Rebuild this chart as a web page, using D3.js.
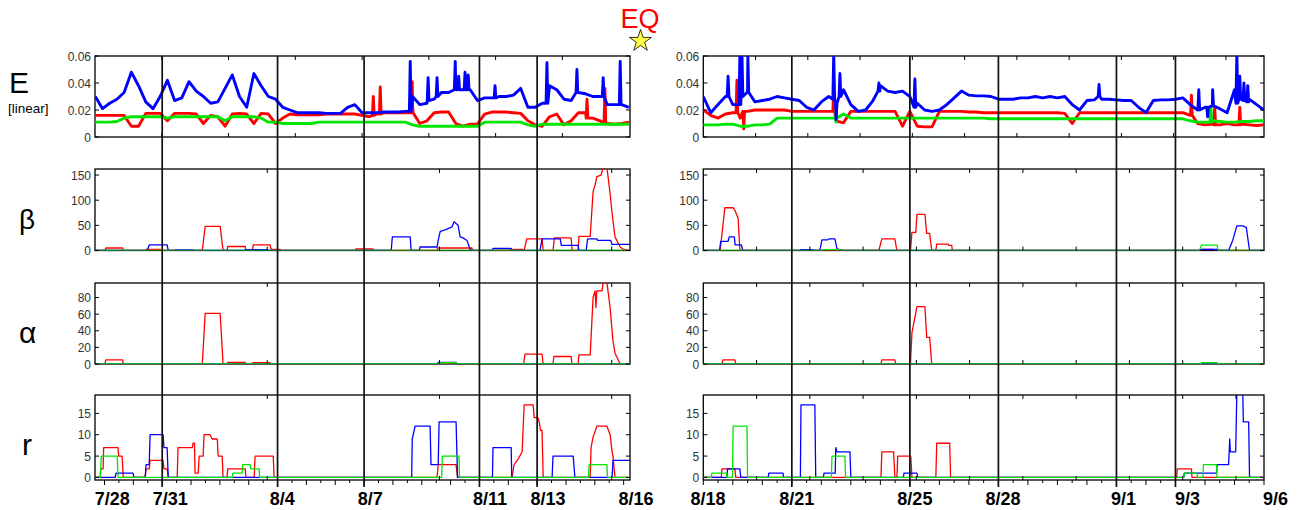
<!DOCTYPE html>
<html>
<head>
<meta charset="utf-8">
<script src="https://cdn.jsdelivr.net/npm/d3@7"></script>
<style>
body { margin: 0; background: #fff; }
text { font-family: "Liberation Sans", Arial, Helvetica, sans-serif; }
</style>
</head>
<body>
<div id="chart"></div>
<script>
// time is in days since 7/28 00:00
var leftDomain = [0.67, 19.22];
var rightDomain = [21, 40];

var dayLinesL = [3, 7, 10, 14, 16];
var dayLinesR = [24, 28, 31, 35, 37];

var dateLabelsL = ["7/28", "7/31", "8/4", "8/7", "8/11", "8/13", "8/16"];
var dateLabelPosL = [1.27, 3.28, 7.16, 10.21, 14.37, 16.38, 19.43];
var dateLabelsR = ["8/18", "8/21", "8/25", "8/28", "9/1", "9/3", "9/6"];
var dateLabelPosR = [21.16, 24.17, 28.17, 31.16, 35.24, 37.41, 40.39];

/* E series, sampled every 6 hours, in units of 1e-3 */
var eStartL = 0.68, eStartR = 21, eStep = 0.25;

var eBlueL = [30,21,25,28,33,48,38,26,21,30,
    42,27,29,41,34,30,25,26,36,46,
    30,22,47,38,30,28,22,20,18,18,
    18,18,17.5,17.5,17.5,22,24,18,18,18,
    18.5,18.5,18.5,19,30,24,25,28,33,33,
    36,35,35,27,29,29,30,30,31,36,
    22,22,25,38,35,28,27,33,32,30,
    30,24,24,24,22];
var eRedL = [16,16,16,16,16,8,8,17.5,17.5,17.5,
    12,17.5,17.5,17.5,17,10,16,15,8,17,
    17.5,17,10,17.5,17,10,14,17,16.5,16.5,
    16.5,16.5,17,17,17,17,17,16,15,17,
    18,18,18,18,24,10,12,18,18.5,18.5,
    10,8,9.5,9.5,17,18.5,18.5,18.5,18,17.5,
    12,9,8,15,17,9,12,18,18,14,
    12,10,9.5,10,11];
var eGreenL = [11,11,11,11.5,14,15,15,15,15,15,
    14,15,15,15,15,15,15,15,12,15,
    15,15,15,14,11,11,10,10,10,10,
    10,11,11,11,11,11,11,11,11,11,
    11,11,11,11,9,8,8,8,8,8,
    8,8,8,8,11,11,11,11,11,11,
    9,8,9.5,9.5,9.5,9.5,9.5,9.5,9.5,9.5,
    9.5,9.5,9.5,9.5,9.5];

var eBlueR = [30,18,24,30,24,40,35,26,27,28,
    30,29,28,27,22,20,26,30,20,35,
    24,19,20,27,38,34,33,34,30,25,
    20,19,20,24,29,34,31,30.5,30.5,30,
    28,28,28,29,29,30,29,30,29,30,
    24,20,27,27.5,28,28,27.5,27,27,22,
    18,27,27.5,27.5,28,29,24,20,22,23,
    21,18,35,30,28,24,20];
var eRedR = [20,16,14,17,18,14,19,20,20,20,
    20,20,19,19,19,19,19,19,12,10.5,
    19,19,19,19,19,19,19,8,19,8,
    7.5,7.5,19,19,19,19,18.5,18.5,18,18,
    18,18,18,18,18,18,18,18,18,17.5,
    10,18,18,18,18,18,18,18,18,18,
    18,18,18,18,18,18,16,10,9,9.5,
    9,10,9,9.5,9,8.5,9];
var eGreenR = [9,9,9,9.5,9.5,8,8,9,9,9.5,
    14,14,14,14,14,14,14,14,11,17,
    14,14,14,14,14,14,14,14,14,14,
    14,14,14,14,14,14,14,14,14,13.5,
    13.5,13.5,13.5,13.5,13.5,13.5,13.5,13.5,13.5,13.5,
    13.5,13.5,13.5,13.5,13.5,13.5,13.5,13.5,13.5,13.5,
    13.5,13.5,13.5,13.5,13.5,13.5,12,11,11,12,
    11.5,11,11,11.5,11.5,12,12];

// short spikes [day, peak, level around it], units of 1e-3
var eBlueSpikesL = [[11.60,56,19],[12.22,44,27],[12.53,44,30],[13.16,56,35],[13.28,45,35],[13.50,48,35],[13.61,46,35],[14.54,38,29],[16.34,55,25],[17.38,50,33],[18.29,44,30],[18.88,56,24]];
var eRedSpikesL = [[10.32,30,16],[10.56,37,17],[11.67,41,18],[17.73,28,14],[18.35,36,10]];
var eGreenSpikesL = [];
var eBlueSpikesR = [[21.84,45,30],[22.24,62,24],[22.31,62,30],[22.51,60,33],[25.42,62,28],[25.50,13,25],[25.63,47,30],[26.95,40,34],[28.17,43,22],[34.41,39,30],[37.79,35,20],[38.09,15,22],[38.26,35,23],[39.08,62,25],[39.18,45,28],[39.32,40,27],[39.45,38,26]];
var eRedSpikesR = [[22.14,42,18],[22.37,6,19],[25.42,35,19],[37.54,31,16],[38.33,22,9],[39.18,22,9]];
var eGreenSpikesR = [[25.50,20,14],[38.20,22,11]];

/* beta */
var bRedL = [[0.68,0],[1.02,0],[1.04,5],[1.63,5],[1.65,0],[2.41,0],[2.44,2],[2.93,2],[2.96,0],[4.39,0],[4.49,48],[5.01,48],[5.11,0],[5.25,0],[5.27,8],[5.88,8],[5.90,0],[6.12,0],[6.16,11],[6.74,11],[6.78,2],[7.09,2],[7.12,0],[9.69,0],[9.71,3],[10.31,3],[10.33,0],[12.53,0],[12.55,5],[13.74,5],[13.76,0],[15.13,0],[15.15,2],[15.51,2],[15.55,0],[15.64,23],[16.17,23],[16.21,0],[16.55,0],[16.60,25],[17.18,25],[17.21,0],[17.42,0],[17.45,28],[17.84,28],[17.94,117],[18.01,130],[18.07,147],[18.22,150],[18.29,165],[18.42,165],[18.53,113],[18.60,73],[18.70,27],[18.88,7],[19.00,2],[19.22,0]];
var bBlueL = [[0.68,0],[2.48,0],[2.55,11],[3.17,11],[3.21,0],[3.43,0],[3.45,1],[4.07,1],[4.10,0],[5.86,0],[5.88,1.5],[6.64,1.5],[6.67,0],[10.94,0],[10.98,27],[11.60,27],[11.63,0],[11.92,0],[11.94,7],[12.53,7],[12.57,20],[12.64,38],[12.81,41],[13.05,47],[13.12,57],[13.26,50],[13.33,27],[13.43,25],[13.57,20],[13.67,3],[13.74,0],[14.45,0],[14.47,4],[15.10,4],[15.12,0],[16.10,0],[16.17,23],[16.80,23],[16.84,10],[17.42,10],[17.45,0],[17.70,0],[17.75,23],[18.07,23],[18.10,20],[18.55,20],[18.60,12],[19.22,12]];
var bGreenL = [[0.68,0],[19.22,0]];
var bRedR = [[21,0],[21.57,0],[21.63,31],[21.73,85],[22.01,85],[22.07,80],[22.18,64],[22.24,0],[26.95,0],[27.05,23],[27.49,23],[27.56,0],[28.02,0],[28.07,36],[28.20,36],[28.24,72],[28.51,72],[28.57,34],[28.67,34],[28.74,0],[28.88,0],[28.91,12.7],[29.30,12.7],[29.32,10],[29.42,10],[29.44,0],[37.85,0],[37.92,2],[38.26,2],[38.30,0],[40,0]];
var bBlueR = [[21,0],[21.55,0],[21.59,18],[21.84,18],[21.88,27],[22.05,27],[22.08,11],[22.29,11],[22.34,0],[24.28,0],[24.30,1.5],[24.71,1.5],[24.73,0],[24.95,0],[25.02,21],[25.22,21],[25.25,23],[25.46,23],[25.53,3],[25.73,0],[37.81,0],[37.85,2],[38.43,2],[38.45,0],[38.80,0],[38.94,20],[39.08,49],[39.28,49],[39.40,46],[39.51,0],[40,0]];
var bGreenR = [[21,0],[25.05,0],[25.07,1.5],[25.63,1.5],[25.65,0],[37.81,0],[37.88,10.6],[38.41,10.6],[38.45,0],[40,0]];

/* alpha */
var aRedL = [[0.68,0],[1.02,0],[1.04,5],[1.63,5],[1.65,0],[4.39,0],[4.49,61],[5.01,61],[5.11,0],[5.25,0],[5.27,2],[5.88,2],[5.90,0],[6.12,0],[6.14,1.5],[6.74,1.5],[6.76,0],[15.53,0],[15.58,12],[16.17,12],[16.21,0],[16.55,0],[16.58,9],[17.18,9],[17.21,0],[17.42,0],[17.45,11],[17.84,11],[17.94,80],[18.01,88],[18.04,68],[18.07,88],[18.25,88],[18.29,98],[18.42,98],[18.53,68],[18.63,28],[18.70,13],[18.88,0],[19.22,0]];
var aBlueL = [[0.68,0],[12.53,0],[12.57,2],[13.19,2],[13.22,0],[19.22,0]];
var aGreenL = [[0.68,0],[12.64,0],[12.66,1.5],[13.19,1.5],[13.22,0],[19.22,0]];
var aRedR = [[21,0],[21.63,0],[21.67,5],[22.07,5],[22.10,0],[27.02,0],[27.05,5],[27.49,5],[27.52,0],[28.02,0],[28.07,37.5],[28.24,69],[28.51,69],[28.57,32],[28.67,32],[28.74,0],[40,0]];
var aBlueR = [[21,0],[40,0]];
var aGreenR = [[21,0],[37.85,0],[37.88,1.5],[38.41,1.5],[38.45,0],[40,0]];

/* r */
var rRedL = [[0.68,0],[0.85,0],[0.87,2],[0.95,2],[0.97,7],[1.47,7],[1.49,5],[1.61,5],[1.65,0],[2.41,0],[2.44,2],[2.55,2],[2.58,4],[3.03,4],[3.06,2],[3.17,2],[3.21,0],[3.52,0],[3.55,7],[4.04,7],[4.07,8],[4.12,8],[4.14,1],[4.25,1],[4.28,5],[4.42,5],[4.45,10],[4.66,10],[4.73,9],[4.91,9],[4.94,5],[5.08,5],[5.11,0],[5.25,0],[5.27,2],[5.88,2],[5.90,0],[6.19,0],[6.22,5],[6.85,5],[6.88,0],[12.53,0],[12.57,3],[13.19,3],[13.24,0],[15.13,0],[15.20,3],[15.34,4.3],[15.48,6],[15.55,17],[15.86,17],[15.90,14],[16.03,14],[16.07,13],[16.12,11],[16.17,11],[16.21,0],[17.84,0],[17.87,7],[17.94,9.5],[18.07,12],[18.42,12],[18.53,10],[18.60,6],[18.63,5],[18.70,0],[19.22,0]];
var rBlueL = [[0.68,0],[1.37,0],[1.40,1],[1.99,1],[2.02,0],[2.41,0],[2.44,3],[2.55,3],[2.58,10],[3.03,10],[3.06,7],[3.17,7],[3.21,0],[11.65,0],[11.67,9],[11.77,12],[12.29,12],[12.32,3],[12.57,3],[12.60,13],[13.19,13],[13.24,0],[14.45,0],[14.47,7],[15.10,7],[15.12,0],[16.52,0],[16.55,5],[17.25,5],[17.31,0],[18.60,0],[18.63,4],[19.22,4]];
var rGreenL = [[0.68,0],[0.85,0],[0.89,5],[1.44,5],[1.47,0],[5.43,0],[5.45,1],[5.77,1],[5.79,3],[6.05,3],[6.07,2],[6.36,2],[6.38,0],[12.69,0],[12.71,5],[13.29,5],[13.31,0],[17.78,0],[17.80,3],[18.42,3],[18.44,0],[19.22,0]];
var rRedR = [[21,0],[21.61,0],[21.63,2],[22.07,2],[22.10,0],[27.02,0],[27.05,6],[27.45,6],[27.49,0],[27.56,0],[27.59,5],[28.03,5],[28.07,0],[28.88,0],[28.91,8],[29.35,8],[29.38,0],[37.04,0],[37.06,2],[37.54,2],[37.56,0],[40,0]];
var rBlueR = [[21,0],[21.80,0],[21.82,2],[22.24,2],[22.27,0],[23.20,0],[23.22,1],[23.70,1],[23.72,0],[24.29,0],[24.31,17],[24.78,17],[24.81,0],[25.07,0],[25.09,1],[25.47,1],[25.49,7],[25.53,6],[25.97,6],[26.00,0],[27.78,0],[27.80,1],[28.24,1],[28.27,0],[37.28,0],[37.30,1],[38.39,1],[38.41,3],[38.80,3],[38.82,6],[38.84,9],[38.86,6],[39.04,6],[39.08,20],[39.28,20],[39.30,13],[39.48,13],[39.51,0],[40,0]];
var rGreenR = [[21,0],[21.27,0],[21.29,1],[21.78,1],[21.80,0],[21.99,0],[22.01,12],[22.48,12],[22.50,0],[25.34,0],[25.36,5],[25.80,5],[25.82,0],[37.28,0],[37.30,1],[37.73,1],[37.75,0],[37.93,0],[37.95,3],[38.39,3],[38.41,0],[40,0]];

var eTicks = [0, 0.02, 0.04, 0.06];
var bTicks = [0, 50, 100, 150];
var aTicks = [0, 20, 40, 60, 80];
var rTicks = [0, 5, 10, 15];

var BLUE = "#0000ff", RED = "#ff0000", GREEN = "#00e600";

function eSeries(vals, start, spikes) {
    var pts = vals.map(function(v, i) { return [start + i * eStep, v / 1000]; });
    spikes.forEach(function(s) {
        pts.push([s[0] - 0.03, s[2] / 1000], [s[0], s[1] / 1000], [s[0] + 0.03, s[2] / 1000]);
    });
    return pts.sort(function(a, b) { return a[0] - b[0]; });
}

var W = 1297, H = 510;
var svg = d3.select("#chart").append("svg").attr("width", W).attr("height", H);

var sides = [
    { id: "L", domain: leftDomain, range: [95, 630], eStep: 2.315, step: 5.972,
      dayLines: dayLinesL, labels: dateLabelsL, labelPos: dateLabelPosL,
      series: {
        E: [[eSeries(eRedL, eStartL, eRedSpikesL), RED], [eSeries(eGreenL, eStartL, eGreenSpikesL), GREEN], [eSeries(eBlueL, eStartL, eBlueSpikesL), BLUE]],
        b: [[bRedL, RED], [bBlueL, BLUE], [bGreenL, GREEN]],
        a: [[aRedL, RED], [aBlueL, BLUE], [aGreenL, GREEN]],
        r: [[rRedL, RED], [rBlueL, BLUE], [rGreenL, GREEN]]
      } },
    { id: "R", domain: rightDomain, range: [703.3, 1264], eStep: 1.771, step: 1.805,
      dayLines: dayLinesR, labels: dateLabelsR, labelPos: dateLabelPosR,
      series: {
        E: [[eSeries(eRedR, eStartR, eRedSpikesR), RED], [eSeries(eGreenR, eStartR, eGreenSpikesR), GREEN], [eSeries(eBlueR, eStartR, eBlueSpikesR), BLUE]],
        b: [[bRedR, RED], [bBlueR, BLUE], [bGreenR, GREEN]],
        a: [[aRedR, RED], [aBlueR, BLUE], [aGreenR, GREEN]],
        r: [[rRedR, RED], [rBlueR, BLUE], [rGreenR, GREEN]]
      } }
];

var rows = [
    { key: "E", top: 56, bottom: 137, domain: [0, 0.06], ticks: eTicks, width: 2.9,
      fmt: function(v) { return v === 0 ? "0" : v.toFixed(2); } },
    { key: "b", top: 169, bottom: 250.5, domain: [0, 162], ticks: bTicks, width: 1.3, fmt: String },
    { key: "a", top: 283, bottom: 364, domain: [0, 97.5], ticks: aTicks, width: 1.3, fmt: String },
    { key: "r", top: 395, bottom: 480, domain: [-0.6, 19.3], ticks: rTicks, width: 1.3, fmt: String }
];

sides.forEach(function(side) {
    var x = d3.scaleLinear().domain(side.domain).range(side.range);
    var x0 = side.range[0], x1 = side.range[1];

    rows.forEach(function(row) {
        var y = d3.scaleLinear().domain(row.domain).range([row.bottom, row.top]);
        var clipId = "clip-" + side.id + row.key;
        svg.append("clipPath").attr("id", clipId)
            .append("rect").attr("x", x0).attr("y", row.top)
            .attr("width", x1 - x0).attr("height", row.bottom - row.top);

        var g = svg.append("g");
        var line = d3.line().x(function(p) { return x(p[0]); }).y(function(p) { return y(p[1]); });

        // box
        g.append("rect").attr("x", x0).attr("y", row.top)
            .attr("width", x1 - x0).attr("height", row.bottom - row.top)
            .attr("fill", "none").attr("stroke", "#000").attr("stroke-width", 1.3);

        // data
        var dg = g.append("g").attr("clip-path", "url(#" + clipId + ")");
        side.series[row.key].forEach(function(s) {
            dg.append("path").attr("d", line(s[0]))
                .attr("fill", "none").attr("stroke", s[1])
                .attr("stroke-width", row.width)
                .attr("stroke-linejoin", "round");
        });

        // y ticks on both sides, labels on the left
        row.ticks.forEach(function(t) {
            var ty = y(t);
            g.append("line").attr("x1", x0).attr("x2", x0 + 4).attr("y1", ty).attr("y2", ty)
                .attr("stroke", "#000").attr("stroke-width", 1);
            g.append("line").attr("x1", x1 - 4).attr("x2", x1).attr("y1", ty).attr("y2", ty)
                .attr("stroke", "#000").attr("stroke-width", 1);
            g.append("text").attr("x", x0 - 4).attr("y", ty + 4.5)
                .attr("text-anchor", "end").attr("font-size", 12).attr("fill", "#333")
                .text(row.fmt(t));
        });

        // x ticks on top and bottom edges
        var step = row.key === "E" ? side.eStep : side.step;
        d3.range(side.domain[0] + step, side.domain[1] - 0.1, step).forEach(function(d) {
            var tx = x(d);
            g.append("line").attr("x1", tx).attr("x2", tx).attr("y1", row.top).attr("y2", row.top + 4)
                .attr("stroke", "#000").attr("stroke-width", 1);
            g.append("line").attr("x1", tx).attr("x2", tx).attr("y1", row.bottom - 4).attr("y2", row.bottom)
                .attr("stroke", "#000").attr("stroke-width", 1);
        });

        // half-day ticks under the bottom row
        if (row.key === "r") {
            var first = Math.ceil(side.domain[0] * 2) / 2;
            d3.range(first, side.domain[1] + 0.01, 0.5).forEach(function(d) {
                var tx = x(d);
                g.append("line").attr("x1", tx).attr("x2", tx)
                    .attr("y1", row.bottom).attr("y2", row.bottom + (d % 1 === 0 ? 5 : 3))
                    .attr("stroke", "#000").attr("stroke-width", 1);
            });
        }
    });

    // day separator lines across all panels
    side.dayLines.forEach(function(d) {
        svg.append("line").attr("x1", x(d)).attr("x2", x(d)).attr("y1", 56).attr("y2", 487)
            .attr("stroke", "#111").attr("stroke-width", 1.7);
    });

    // date labels
    side.labels.forEach(function(lab, i) {
        svg.append("text").attr("x", x(side.labelPos[i])).attr("y", 505)
            .attr("text-anchor", "middle").attr("font-size", 18).attr("font-weight", "bold")
            .text(lab);
    });
});

// row names
svg.append("text").attr("x", 9).attr("y", 93).attr("font-size", 30).text("E");
svg.append("text").attr("x", 8).attr("y", 113).attr("font-size", 13.5).text("[linear]");
svg.append("text").attr("x", 19).attr("y", 229).attr("font-size", 28).text("β");
svg.append("text").attr("x", 19).attr("y", 343).attr("font-size", 30).text("α");
svg.append("text").attr("x", 22).attr("y", 455).attr("font-size", 30).text("r");

// earthquake marker
svg.append("text").attr("x", 640).attr("y", 28).attr("text-anchor", "middle")
    .attr("font-size", 27).attr("fill", "#ff0000").text("EQ");
svg.append("path")
    .attr("d", d3.symbol().type(d3.symbolStar).size(150)())
    .attr("transform", "translate(640.5,41)")
    .attr("fill", "#ffff44").attr("stroke", "#000").attr("stroke-width", 0.8);
</script>
</body>
</html>
